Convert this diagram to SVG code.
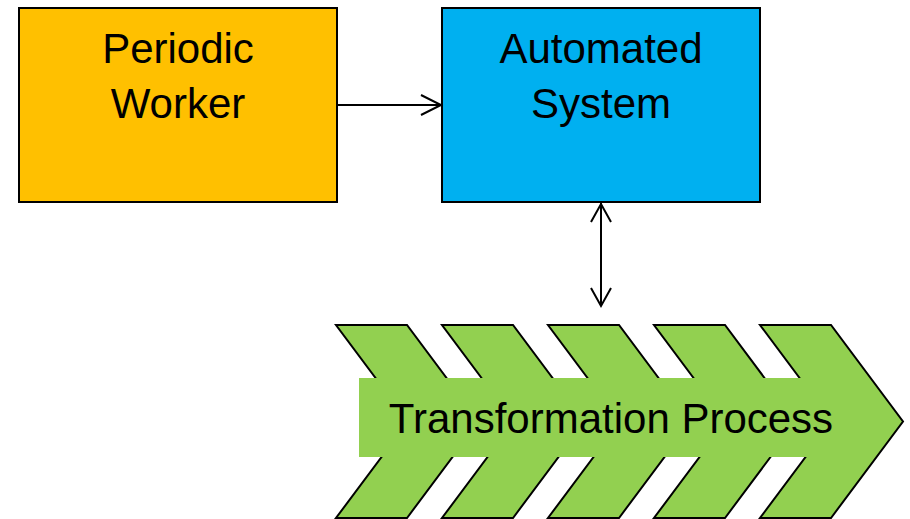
<svg xmlns="http://www.w3.org/2000/svg" width="910" height="519" viewBox="0 0 910 519">
<style>
.box{stroke:#000;stroke-width:2}
.lbl{font-family:"Liberation Sans",Arial,sans-serif;font-size:42px;fill:#000;text-anchor:middle}
.chev{fill:#92D050;stroke:#000;stroke-width:2;stroke-linejoin:miter}
.conn{fill:none;stroke:#000;stroke-width:2}
</style>
<g id="periodic-worker">
<rect class="box" x="19" y="8" width="318" height="194" fill="#FFC000"/>
<text class="lbl" x="178" y="63">Periodic</text>
<text class="lbl" x="178" y="118">Worker</text>
</g>
<g id="automated-system">
<rect class="box" x="442" y="8" width="318" height="194" fill="#00B0F0"/>
<text class="lbl" x="601" y="63">Automated</text>
<text class="lbl" x="601" y="118">System</text>
</g>
<g id="transformation-process">
<path class="chev" d="M336,325 L407,325 L479,421.5 L407,518 L336,518 L408,421.5 Z"/>
<path class="chev" d="M442,325 L513,325 L585,421.5 L513,518 L442,518 L514,421.5 Z"/>
<path class="chev" d="M548,325 L619,325 L691,421.5 L619,518 L548,518 L620,421.5 Z"/>
<path class="chev" d="M654,325 L725,325 L797,421.5 L725,518 L654,518 L726,421.5 Z"/>
<path class="chev" d="M760,325 L831,325 L903,421.5 L831,518 L760,518 L832,421.5 Z"/>
<rect x="359" y="378" width="506" height="79" fill="#92D050"/>
<text class="lbl" x="611" y="433">Transformation Process</text>
</g>
<g id="connectors">
<line class="conn" x1="337" y1="105" x2="441" y2="105"/>
<polyline class="conn" points="421,95 441,105 421,115"/>
<line class="conn" x1="601" y1="203" x2="601" y2="306"/>
<polyline class="conn" points="591,222 601,204 611,222"/>
<polyline class="conn" points="591,288 601,306 611,288"/>
</g>
</svg>
